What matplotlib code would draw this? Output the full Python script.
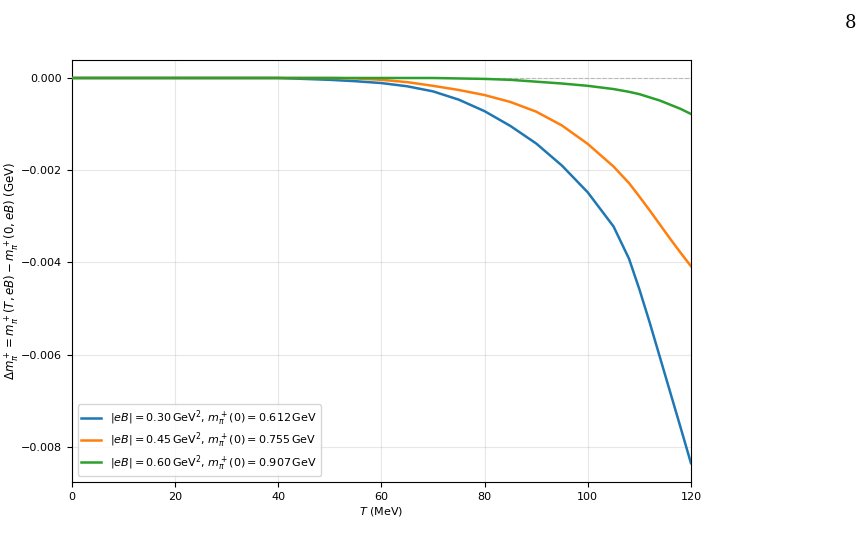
import numpy as np
import matplotlib
matplotlib.use("Agg")
import matplotlib.pyplot as plt

# temperatures (MeV)
T = [0, 10, 20, 30, 40, 45, 50, 55, 60, 65, 70, 75, 80, 85, 90, 95, 100, 105, 108, 110, 112, 114, 116, 118, 120]

# mass shifts (GeV)
dm_030 = [0, 0, 0, 0, 0, -0.00002, -0.00004, -0.00007, -0.00011, -0.00018, -0.00029, -0.00047,
          -0.00072, -0.00104, -0.00142, -0.00190, -0.00248, -0.00322, -0.00392, -0.00458,
          -0.00530, -0.00606, -0.00682, -0.00758, -0.00835]
dm_045 = [0, 0, 0, 0, 0, 0, 0, -0.00001, -0.00004, -0.00009, -0.00017, -0.00026,
          -0.00037, -0.00052, -0.00073, -0.00103, -0.00143, -0.00192, -0.00228, -0.00257,
          -0.00287, -0.00318, -0.00349, -0.00379, -0.00408]
dm_060 = [0, 0, 0, 0, 0, 0, 0, 0, 0, 0, 0, -0.00001,
          -0.00002, -0.00004, -0.00008, -0.00012, -0.00017, -0.00024, -0.00030, -0.00035,
          -0.00042, -0.00049, -0.00058, -0.00067, -0.00078]

labels = [r'$|eB| = 0.30\,\mathrm{GeV}^2$, $m_\pi^+(0) = 0.612\,\mathrm{GeV}$',
          r'$|eB| = 0.45\,\mathrm{GeV}^2$, $m_\pi^+(0) = 0.755\,\mathrm{GeV}$',
          r'$|eB| = 0.60\,\mathrm{GeV}^2$, $m_\pi^+(0) = 0.907\,\mathrm{GeV}$']

fig = plt.figure(figsize=(8.68, 5.52), dpi=100)
ax = fig.add_axes([0.0829, 0.1268, 0.7131, 0.7645])

ax.axhline(0, color='gray', ls='--', lw=0.8, alpha=0.5, zorder=1)
for y, lab, c in zip([dm_030, dm_045, dm_060], labels, ['C0', 'C1', 'C2']):
    ax.plot(T, y, color=c, lw=1.8, label=lab, zorder=3)

ax.set_xlim(0, 120)
ax.set_ylim(-0.00876, 0.00039)
ax.set_xticks([0, 20, 40, 60, 80, 100, 120])
ax.set_yticks([0, -0.002, -0.004, -0.006, -0.008])
ax.set_yticklabels(['0.000', '\u22120.002', '\u22120.004', '\u22120.006', '\u22120.008'])
ax.tick_params(labelsize=8)
ax.grid(True, alpha=0.3)
ax.set_xlabel(r'$T$ (MeV)', fontsize=8, labelpad=2)
ax.set_ylabel(r'$\Delta m_\pi^+ = m_\pi^+(T, eB) - m_\pi^+(0, eB)$ (GeV)', fontsize=8.5)
ax.yaxis.set_label_coords(-0.083, 0.5)
ax.legend(loc='lower left', fontsize=8, labelspacing=0.25, borderpad=0.35, handlelength=1.8)

fig.text(0.987, 0.975, '8', family='serif', fontsize=13, ha='right', va='top')

fig.savefig('out.png', dpi=100)
